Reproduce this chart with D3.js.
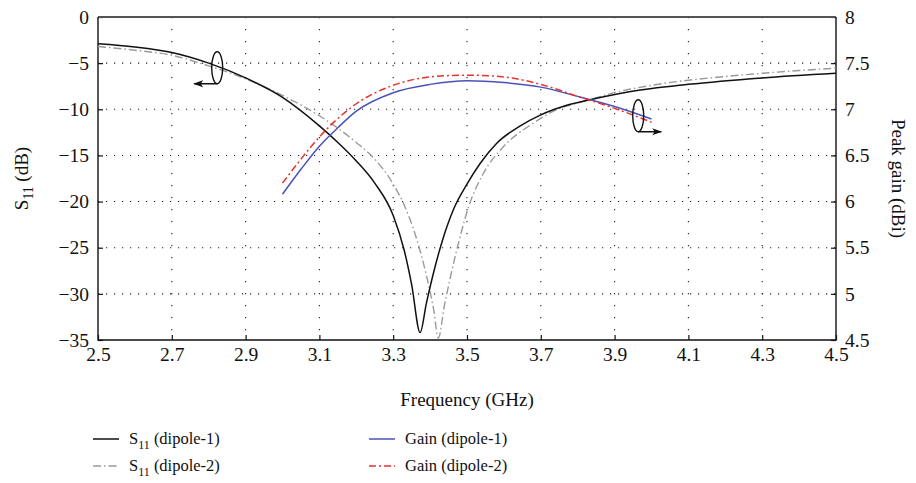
<!DOCTYPE html>
<html>
<head>
<meta charset="utf-8">
<script src="https://cdn.jsdelivr.net/npm/d3@7"></script>
<style>
  body { margin: 0; background: #fff; }
  svg { display: block; }
  text { font-family: "Liberation Serif", "Times New Roman", serif; fill: #111; }
</style>
</head>
<body>
<svg id="chart" width="916" height="483"></svg>
<script>
// Reflection coefficient, dipole-1 (GHz, dB)
const freqS11A = [2.5, 2.6, 2.7, 2.8, 2.9, 3.0, 3.1, 3.15, 3.2, 3.25, 3.3, 3.33, 3.35, 3.373, 3.39, 3.41, 3.432, 3.465, 3.5, 3.535, 3.58, 3.64, 3.7, 3.76, 3.83, 3.94, 4.1, 4.3, 4.5];
const s11A     = [-2.9, -3.25, -3.85, -5.0, -6.6, -8.7, -11.8, -13.6, -15.6, -18.0, -21.5, -25.3, -29.0, -34.2, -31.0, -27.6, -24.4, -20.7, -18.1, -15.9, -13.7, -11.9, -10.6, -9.7, -9.0, -8.1, -7.3, -6.6, -6.1];

// Reflection coefficient, dipole-2 (GHz, dB)
const freqS11B = [2.5, 2.6, 2.7, 2.8, 2.9, 3.0, 3.1, 3.2, 3.25, 3.3, 3.33, 3.36, 3.39, 3.41, 3.422, 3.44, 3.455, 3.48, 3.505, 3.545, 3.6, 3.68, 3.74, 3.82, 3.9, 4.0, 4.1, 4.2, 4.3, 4.4, 4.5];
const s11B     = [-3.2, -3.6, -4.15, -5.3, -6.7, -8.5, -10.7, -13.6, -15.4, -18.1, -20.4, -23.6, -28.0, -31.8, -34.8, -31.0, -28.2, -24.0, -20.5, -16.9, -14.0, -11.5, -10.1, -9.1, -8.2, -7.4, -6.85, -6.45, -6.1, -5.8, -5.55];

// Peak gain (GHz, dBi)
const freqGain = [3.0, 3.05, 3.1, 3.15, 3.2, 3.3, 3.4, 3.5, 3.6, 3.7, 3.8, 3.9, 4.0];
const gainA    = [6.08, 6.35, 6.60, 6.80, 6.98, 7.18, 7.27, 7.31, 7.29, 7.24, 7.14, 7.03, 6.895];
const gainB    = [6.20, 6.46, 6.70, 6.90, 7.06, 7.26, 7.35, 7.37, 7.35, 7.27, 7.14, 7.01, 6.86];

// Tick values
const xTicks      = [2.5, 2.7, 2.9, 3.1, 3.3, 3.5, 3.7, 3.9, 4.1, 4.3, 4.5];
const yLeftTicks  = [0, -5, -10, -15, -20, -25, -30, -35];
const yRightTicks = [8, 7.5, 7, 6.5, 6, 5.5, 5, 4.5];

const svg = d3.select("#chart");
const plotL = 98, plotR = 836, plotT = 17, plotB = 340;

const x  = d3.scaleLinear().domain([2.5, 4.5]).range([plotL, plotR]);
const yL = d3.scaleLinear().domain([-35, 0]).range([plotB, plotT]);
const yR = d3.scaleLinear().domain([4.5, 8]).range([plotB, plotT]);

// Dotted grid
const grid = svg.append("g").attr("stroke", "#222").attr("stroke-width", 1.1);
grid.selectAll("line.v").data(xTicks.slice(1, -1)).join("line")
  .attr("x1", d => x(d)).attr("x2", d => x(d))
  .attr("y1", plotT).attr("y2", plotB)
  .attr("stroke-dasharray", "1.2,10.8");
grid.selectAll("line.h").data(yLeftTicks.slice(1, -1)).join("line")
  .attr("x1", plotL).attr("x2", plotR)
  .attr("y1", d => yL(d)).attr("y2", d => yL(d))
  .attr("stroke-dasharray", "1.2,6.8");

// Axes with inward ticks
const fontSize = 19.5;
const gx = svg.append("g").attr("transform", `translate(0,${plotB})`)
  .call(d3.axisBottom(x).tickValues(xTicks).tickFormat(d3.format(".1f")).tickSize(-5).tickPadding(7));
const gl = svg.append("g").attr("transform", `translate(${plotL},0)`)
  .call(d3.axisLeft(yL).tickValues(yLeftTicks).tickFormat(d3.format("d")).tickSize(-5).tickPadding(9));
const gr = svg.append("g").attr("transform", `translate(${plotR},0)`)
  .call(d3.axisRight(yR).tickValues(yRightTicks).tickFormat(d => d3.format("")(d)).tickSize(-5).tickPadding(9));
[gx, gl, gr].forEach(g => {
  g.select(".domain").remove();
  g.selectAll(".tick line").attr("stroke", "#111").attr("stroke-width", 1.2);
  g.selectAll(".tick text").attr("font-size", fontSize).attr("fill", "#111")
    .style("font-family", '"Liberation Serif", serif');
});
gx.selectAll(".tick text").attr("dy", "0.74em");

// Plot frame
svg.append("line").attr("x1", plotL).attr("x2", plotR).attr("y1", plotT).attr("y2", plotT)
  .attr("stroke", "#555").attr("stroke-width", 2);
svg.append("path")
  .attr("d", `M${plotL},${plotT}V${plotB}H${plotR}V${plotT}`)
  .attr("fill", "none").attr("stroke", "#111").attr("stroke-width", 1.4);

// Curves
svg.append("clipPath").attr("id", "plot-clip")
  .append("rect").attr("x", plotL).attr("y", plotT).attr("width", plotR - plotL).attr("height", plotB - plotT);
const plot = svg.append("g").attr("clip-path", "url(#plot-clip)");

const lineS11 = d3.line().x(d => x(d[0])).y(d => yL(d[1])).curve(d3.curveMonotoneX);
const lineGain = d3.line().x(d => x(d[0])).y(d => yR(d[1])).curve(d3.curveMonotoneX);

const series = [
  { data: d3.zip(freqS11B, s11B), line: lineS11, color: "#9a9a9a", dash: "8,3,1.5,3", width: 1.4 },
  { data: d3.zip(freqS11A, s11A), line: lineS11, color: "#111", dash: null, width: 1.5 },
  { data: d3.zip(freqGain, gainA), line: lineGain, color: "#4a52b8", dash: null, width: 1.5 },
  { data: d3.zip(freqGain, gainB), line: lineGain, color: "#e8322c", dash: "7,3,2,3", width: 1.5 }
];
series.forEach(s => {
  plot.append("path").attr("d", s.line(s.data))
    .attr("fill", "none").attr("stroke", s.color).attr("stroke-width", s.width)
    .attr("stroke-dasharray", s.dash);
});

// Axis markers: ellipse with arrow pointing to the relevant axis
const defs = svg.append("defs");
defs.append("marker").attr("id", "arrowhead").attr("viewBox", "0 0 10 10")
  .attr("refX", 9).attr("refY", 5).attr("markerWidth", 10).attr("markerHeight", 10)
  .attr("markerUnits", "userSpaceOnUse").attr("orient", "auto")
  .append("path").attr("d", "M0,1.5L10,5L0,8.5L2.5,5Z").attr("fill", "#111");

function axisMarker(f, v, scale, dir) {
  const cx = x(f), cy = scale(v);
  svg.append("ellipse").attr("cx", cx).attr("cy", cy).attr("rx", 5.5).attr("ry", 16)
    .attr("fill", "none").attr("stroke", "#111").attr("stroke-width", 1.4);
  svg.append("line").attr("x1", cx).attr("y1", cy + 16).attr("x2", cx + dir * 23).attr("y2", cy + 16)
    .attr("stroke", "#111").attr("stroke-width", 1.5).attr("marker-end", "url(#arrowhead)");
}
axisMarker(2.823, -5.5, yL, -1);
axisMarker(3.964, 6.93, yR, 1);

// Axis titles
function labelWithSub(g, main, sub, rest, size) {
  const t = g.append("text").attr("font-size", size).attr("text-anchor", "middle");
  t.append("tspan").text(main);
  t.append("tspan").text(sub).attr("font-size", size * 0.72).attr("dy", size * 0.28);
  t.append("tspan").text(rest).attr("dy", -size * 0.28);
  return t;
}
const titleSize = 19;
labelWithSub(svg.append("g").attr("transform", `translate(28,${(plotT + plotB) / 2}) rotate(-90)`),
  "S", "11", " (dB)", titleSize);
svg.append("text").attr("transform", `translate(892,${(plotT + plotB) / 2}) rotate(90)`)
  .attr("text-anchor", "middle").attr("font-size", titleSize).text("Peak gain (dBi)");
svg.append("text").attr("x", (plotL + plotR) / 2).attr("y", 406)
  .attr("text-anchor", "middle").attr("font-size", titleSize).text("Frequency (GHz)");

// Legend
const legendItems = [
  { col: 0, row: 0, main: "S", sub: "11", rest: " (dipole-1)", color: "#111", dash: null },
  { col: 0, row: 1, main: "S", sub: "11", rest: " (dipole-2)", color: "#9a9a9a", dash: "8,3,1.5,3" },
  { col: 1, row: 0, main: "Gain (dipole-1)", sub: "", rest: "", color: "#4a52b8", dash: null },
  { col: 1, row: 1, main: "Gain (dipole-2)", sub: "", rest: "", color: "#e8322c", dash: "7,3,2,3" }
];
const legendX = [93, 369], legendY = [439, 466];
const legend = svg.append("g");
legendItems.forEach(it => {
  const lx = legendX[it.col], ly = legendY[it.row];
  legend.append("line").attr("x1", lx).attr("x2", lx + 26).attr("y1", ly).attr("y2", ly)
    .attr("stroke", it.color).attr("stroke-width", 1.5).attr("stroke-dasharray", it.dash);
  const t = legend.append("text").attr("x", lx + 36).attr("y", ly + 5).attr("font-size", 16.5);
  t.append("tspan").text(it.main);
  if (it.sub) {
    t.append("tspan").text(it.sub).attr("font-size", 12).attr("dy", 5);
    t.append("tspan").text(it.rest).attr("dy", -5);
  }
});
</script>
</body>
</html>
